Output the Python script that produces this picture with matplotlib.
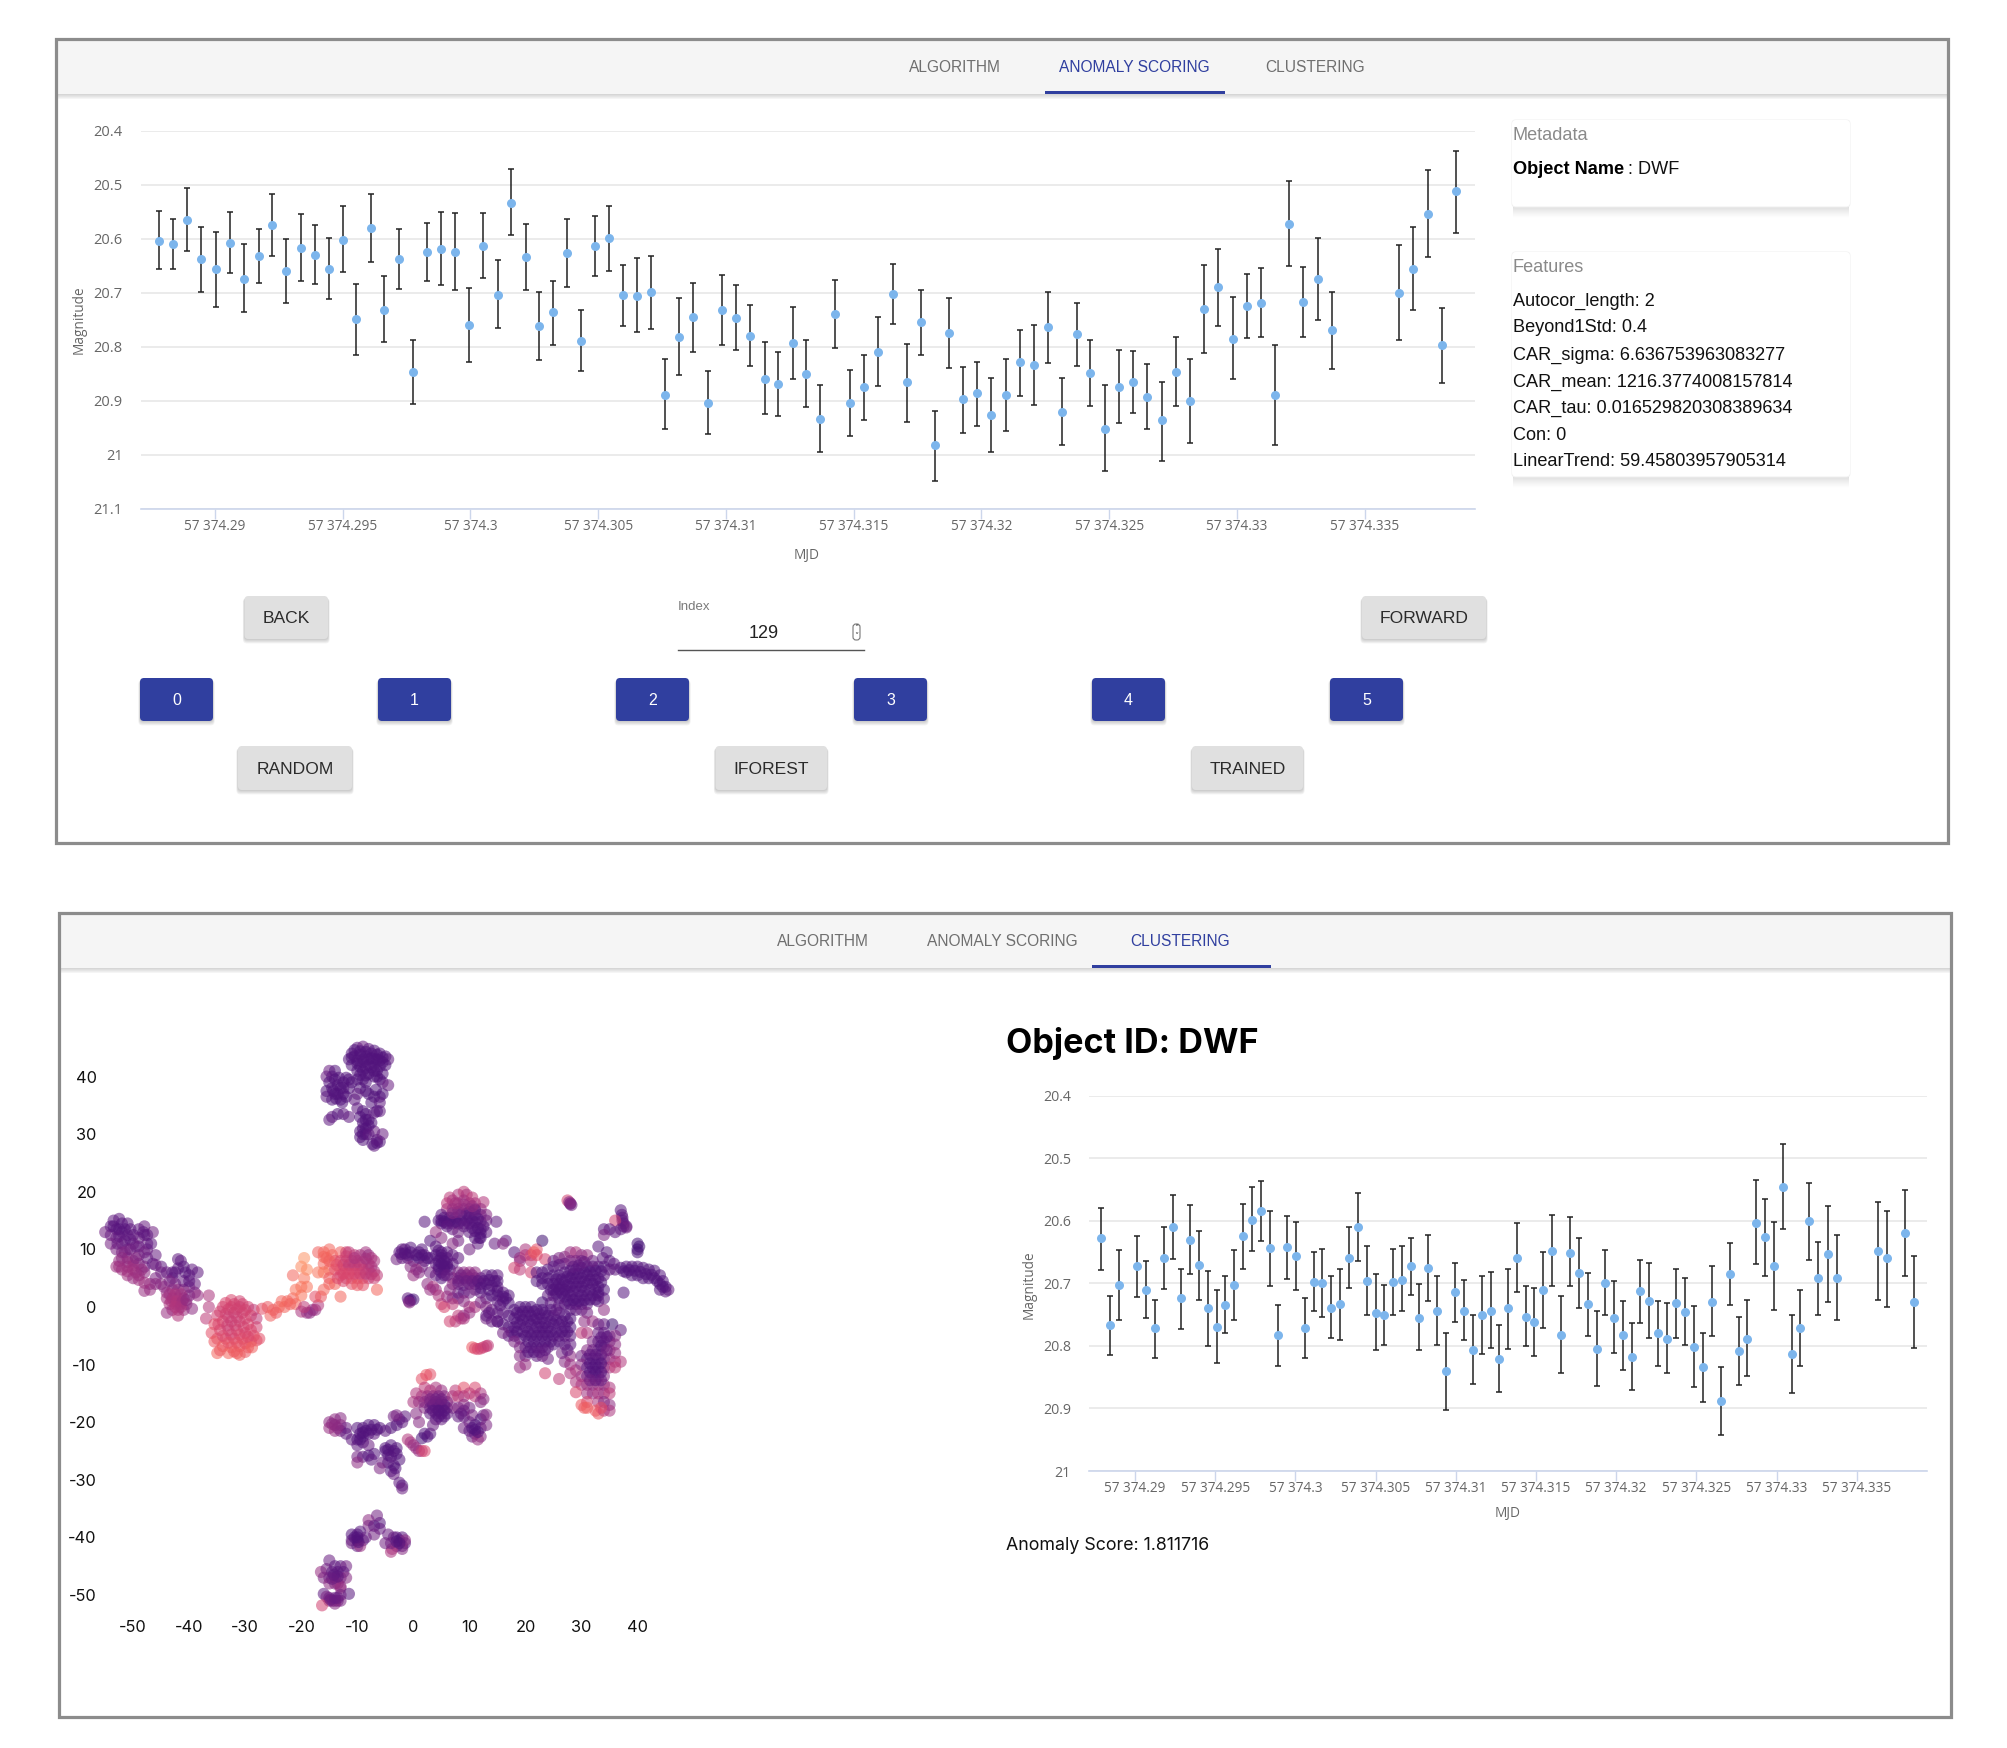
import matplotlib
matplotlib.use("Agg")
import matplotlib.pyplot as plt
from matplotlib.patches import Rectangle, FancyBboxPatch
from matplotlib.ticker import FixedLocator, FixedFormatter, FuncFormatter

W, H = 2007, 1748

# ---------- light curve, anomaly-scoring tab (MJD offset from 57374, magnitude, upper, lower)
top_mjd = [.28780,.28837,.28889,.28947,.29004,.29058,.29115,.29171,.29224,.29280,.29335,.29391,.29446,.29500,.29554,.29611,.29663,.29720,.29774,.29831,.29883,.29940,.29996,.30049,.30107,.30160,.30216,.30270,.30323,.30379,.30432,.30488,.30543,.30599,.30652,.30708,.30761,.30817,.30872,.30930,.30984,.31039,.31095,.31152,.31204,.31261,.31315,.31370,.31426,.31486,.31541,.31596,.31654,.31709,.31764,.31819,.31874,.31929,.31984,.32039,.32097,.32152,.32207,.32260,.32317,.32375,.32427,.32485,.32540,.32595,.32650,.32705,.32760,.32815,.32873,.32928,.32983,.33038,.33093,.33148,.33203,.33258,.33316,.33374,.33633,.33690,.33748,.33803,.33858]
top_mag = [20.603,20.610,20.564,20.637,20.656,20.608,20.674,20.631,20.574,20.660,20.616,20.630,20.655,20.601,20.749,20.580,20.731,20.637,20.847,20.624,20.618,20.624,20.760,20.613,20.703,20.533,20.633,20.762,20.736,20.626,20.789,20.613,20.599,20.704,20.705,20.699,20.889,20.781,20.745,20.903,20.731,20.747,20.779,20.859,20.868,20.792,20.850,20.933,20.739,20.904,20.875,20.810,20.701,20.865,20.753,20.982,20.774,20.897,20.886,20.926,20.889,20.828,20.833,20.763,20.920,20.776,20.849,20.951,20.874,20.865,20.892,20.936,20.846,20.900,20.730,20.689,20.785,20.724,20.718,20.889,20.572,20.716,20.674,20.769,20.700,20.655,20.554,20.797,20.512]
top_upper = [20.548,20.563,20.506,20.577,20.587,20.550,20.610,20.581,20.516,20.600,20.554,20.575,20.598,20.539,20.683,20.516,20.668,20.581,20.787,20.571,20.550,20.552,20.691,20.552,20.639,20.470,20.573,20.699,20.677,20.563,20.731,20.558,20.539,20.648,20.635,20.631,20.823,20.710,20.681,20.844,20.666,20.685,20.723,20.791,20.810,20.725,20.787,20.870,20.675,20.843,20.814,20.744,20.646,20.794,20.694,20.918,20.710,20.837,20.827,20.858,20.822,20.768,20.760,20.698,20.858,20.718,20.787,20.870,20.806,20.808,20.831,20.864,20.781,20.823,20.649,20.619,20.708,20.664,20.654,20.797,20.493,20.652,20.598,20.698,20.612,20.577,20.473,20.727,20.437]
top_lower = [20.656,20.656,20.623,20.698,20.725,20.663,20.736,20.681,20.631,20.719,20.677,20.683,20.711,20.661,20.815,20.643,20.791,20.692,20.906,20.677,20.686,20.694,20.827,20.673,20.765,20.592,20.694,20.825,20.796,20.688,20.844,20.668,20.659,20.761,20.773,20.766,20.952,20.852,20.809,20.962,20.796,20.806,20.835,20.925,20.927,20.860,20.912,20.994,20.802,20.965,20.936,20.873,20.757,20.938,20.815,21.048,20.838,20.959,20.946,20.994,20.956,20.890,20.907,20.830,20.982,20.835,20.910,21.029,20.940,20.923,20.952,21.011,20.909,20.977,20.811,20.761,20.860,20.784,20.782,20.982,20.650,20.782,20.750,20.841,20.787,20.731,20.633,20.867,20.588]

# ---------- light curve, clustering tab
low_mjd = [.28790,.28846,.28900,.29012,.29069,.29123,.29179,.29235,.29289,.29341,.29397,.29453,.29509,.29563,.29619,.29673,.29729,.29783,.29840,.29891,.29950,.30002,.30058,.30114,.30168,.30224,.30278,.30334,.30390,.30446,.30500,.30550,.30606,.30662,.30719,.30773,.30829,.30885,.30941,.30995,.31051,.31107,.31163,.31217,.31267,.31323,.31379,.31436,.31490,.31546,.31602,.31656,.31712,.31768,.31822,.31878,.31928,.31984,.32040,.32096,.32150,.32207,.32263,.32319,.32373,.32429,.32485,.32541,.32597,.32651,.32707,.32763,.32817,.32874,.32930,.32986,.33040,.33096,.33146,.33202,.33258,.33318,.33374,.33634,.33690,.33800,.33854]
low_mag = [20.628,20.767,20.703,20.673,20.710,20.772,20.660,20.610,20.724,20.630,20.671,20.740,20.769,20.734,20.703,20.624,20.598,20.585,20.644,20.783,20.642,20.656,20.772,20.698,20.699,20.739,20.733,20.660,20.610,20.696,20.747,20.751,20.698,20.694,20.673,20.755,20.676,20.744,20.840,20.714,20.744,20.806,20.751,20.744,20.821,20.740,20.660,20.753,20.762,20.710,20.648,20.783,20.651,20.683,20.733,20.805,20.699,20.755,20.783,20.817,20.712,20.728,20.780,20.789,20.732,20.746,20.801,20.833,20.730,20.888,20.685,20.808,20.789,20.603,20.626,20.673,20.546,20.813,20.771,20.601,20.692,20.653,20.691,20.648,20.660,20.619,20.730]
low_upper = [20.579,20.720,20.647,20.625,20.664,20.726,20.610,20.559,20.677,20.575,20.616,20.680,20.711,20.688,20.647,20.573,20.546,20.536,20.584,20.734,20.592,20.602,20.723,20.650,20.645,20.689,20.677,20.610,20.556,20.641,20.685,20.703,20.645,20.641,20.627,20.701,20.622,20.689,20.779,20.668,20.694,20.750,20.689,20.682,20.767,20.677,20.604,20.704,20.707,20.650,20.591,20.721,20.594,20.627,20.684,20.745,20.647,20.696,20.729,20.764,20.663,20.668,20.729,20.732,20.677,20.691,20.737,20.779,20.673,20.833,20.636,20.753,20.726,20.534,20.565,20.602,20.477,20.751,20.710,20.540,20.634,20.577,20.622,20.570,20.584,20.550,20.657]
low_lower = [20.678,20.814,20.759,20.722,20.755,20.820,20.709,20.661,20.773,20.685,20.727,20.800,20.827,20.779,20.759,20.677,20.648,20.633,20.704,20.832,20.693,20.711,20.820,20.745,20.754,20.788,20.791,20.707,20.665,20.750,20.807,20.798,20.750,20.745,20.718,20.807,20.729,20.798,20.902,20.761,20.791,20.861,20.813,20.804,20.873,20.805,20.714,20.800,20.816,20.772,20.704,20.843,20.705,20.739,20.784,20.864,20.750,20.812,20.839,20.871,20.763,20.788,20.832,20.843,20.788,20.798,20.866,20.889,20.784,20.943,20.734,20.862,20.848,20.669,20.689,20.743,20.613,20.875,20.832,20.663,20.750,20.730,20.759,20.727,20.738,20.689,20.804]

mjd_ticks = [.29,.295,.30,.305,.31,.315,.32,.325,.33,.335]
mjd_labels = ['57 374.29','57 374.295','57 374.3','57 374.305','57 374.31','57 374.315','57 374.32','57 374.325','57 374.33','57 374.335']
top_mag_ticks = [20.4,20.5,20.6,20.7,20.8,20.9,21.0,21.1]
top_mag_labels = ['20.4','20.5','20.6','20.7','20.8','20.9','21','21.1']
low_mag_ticks = top_mag_ticks[:-1]
low_mag_labels = top_mag_labels[:-1]

# ---------- t-SNE embedding, one list of (x, y, score) per island
cl_top = [(-11,44,.27),(-10,45,.3),(-9,45.2,.33),(-8,44.8,.3),(-7,44.5,.27),(-6,44,.27),(-5,43.5,.27),(-4.5,43,.3),(-11.5,43,.27),(-10.5,43.5,.27),(-9.5,43.8,.27),(-8.5,43.5,.27),(-7.5,43.2,.27),(-6.5,43,.27),(-5.5,42.5,.27),(-5,42,.27),(-11,42,.27),(-10,42.3,.27),(-9,42.5,.27),(-8,42,.27),(-7,42,.27),(-6,41.8,.27),(-10,41,.27),(-9,41,.27),(-8,40.5,.27),(-7,41,.27),(-10,39.5,.27),(-9,39.5,.27),(-8.5,39,.27),(-6,39.5,.27),(-5.5,39,.3),(-4.5,38.5,.33),(-15,41,.33),(-15.5,40,.33),(-14.5,40,.3),(-15,39,.27),(-14,39.5,.27),(-13.5,38.5,.27),(-14.5,38,.27),(-15.5,37.5,.27),(-13,38,.27),(-12.5,37,.27),(-14,37,.27),(-15.5,36.5,.3),(-14.5,36,.27),(-13,36,.27),(-12,36.5,.27),(-11.5,38,.27),(-11,39,.27),(-8,37,.27),(-7,36.5,.27),(-6,36.5,.27),(-5.5,37,.27),(-7.5,35.5,.27),(-6,35.5,.3),(-10,34.5,.3),(-9.5,33,.27),(-8.5,33.5,.27),(-8,32.5,.27),(-9,32,.27),(-8.5,31,.27),(-9.5,30.5,.27),(-8.5,30,.27),(-9.5,29.5,.27),(-9,29,.27),(-7,30.5,.33),(-6.5,28.5,.27),(-7,28,.3),(-7.3,28.3,.27),(-6,28.7,.27),(-15,32.5,.3),(-14.5,33,.3),(-13.5,33.5,.27),(-12.5,33.5,.3),(-11.5,33,.3),(-7.5,32,.27),(-6,34,.3),(-10.5,44.6,.27),(-9.5,44.4,.27),(-8.5,44.3,.27),(-7.5,44,.27),(-6.5,43.8,.27),(-5.5,43.3,.27),(-11,43.3,.27),(-10,42.8,.27),(-9,43,.27),(-8,43,.27),(-7,43,.27),(-6,42.8,.27),(-9.5,41.7,.27),(-8.5,41.5,.27),(-7.5,41.6,.27),(-6.5,41,.27),(-9.5,40.3,.27),(-8.5,40.2,.27),(-7,40,.27),(-6.5,40,.27),(-5.5,40.5,.27),(-14,41,.27),(-13.3,39.8,.27),(-12.5,39,.27),(-12,39.8,.27),(-11.5,39.5,.27),(-13.5,37,.27),(-14.3,37.5,.27),(-12.5,38,.27),(-13.8,36.2,.27),(-12.7,35.5,.27),(-9.5,38,.27),(-8.5,37.5,.27),(-6.7,37.7,.27),(-9,34,.27),(-9,31,.27),(-8,31.5,.27),(-9,30,.27),(-8,30,.3),(-8.5,32.5,.27),(-6.5,29,.3),(-10,37,.3),(-10.5,36,.3),(-6.5,34,.27),(-7,33.7,.3),(-5.5,30,.33)]
cl_left = [(-55,13,.35),(-54,14,.3),(-53.5,15,.3),(-52.5,15.3,.3),(-52,14.5,.28),(-53,13.5,.3),(-54,12.5,.33),(-52,13,.3),(-51,14.5,.3),(-50.5,13.5,.3),(-51,12.5,.32),(-53,12,.33),(-54,11,.36),(-52,11,.35),(-50,12.5,.3),(-49,13.5,.3),(-48,14,.33),(-49,12,.32),(-48,12.5,.32),(-47.5,11,.32),(-46.5,13,.35),(-47.5,10,.33),(-49,10.5,.33),(-50,11,.35),(-51,10,.36),(-52,9.5,.4),(-53,10,.38),(-51,8.5,.42),(-52.5,8,.45),(-53,7,.47),(-52,6.5,.47),(-51,7,.45),(-50,8,.42),(-50,6.5,.47),(-49,7.5,.42),(-49,9,.36),(-47.5,8.5,.33),(-46,9,.32),(-48,6,.42),(-49,5.5,.45),(-51,5.5,.48),(-50,5,.45),(-48,7,.38),(-46.5,7.5,.3),(-45,7,.3),(-48,2.8,.45),(-46,5,.38),(-47,4,.42),(-45,4,.4),(-43,5,.3),(-42.5,6,.3),(-41.5,8,.3),(-42,8.3,.3),(-41,7,.28),(-39.5,6.5,.3),(-38.5,6,.3),(-40,5.5,.3),(-39,4,.33),(-40,3.5,.35),(-39,2.5,.38),(-38.5,2,.45),(-44,2.5,.45),(-43,3,.47),(-42,3,.48),(-41,3,.42),(-44,1.5,.48),(-43,1.5,.5),(-42,1.5,.5),(-41,1.5,.45),(-40,2,.4),(-43.5,.5,.5),(-42.5,.5,.5),(-41.5,.5,.48),(-40.5,.5,.45),(-43,-.5,.5),(-42,-.5,.5),(-41,-.5,.47),(-42,-1.5,.52),(-44,-1,.45),(-39.5,-.3,.42),(-36.5,2,.5),(-36.5,0,.52),(-53.5,14,.28),(-52.5,13.5,.28),(-51.5,13.5,.28),(-52.5,12.3,.3),(-51.5,11.5,.3),(-50.5,11.7,.3),(-52.8,11,.33),(-51.5,9.5,.38),(-50.5,10,.36),(-49.5,10.5,.33),(-52,8.5,.42),(-51,7.8,.45),(-50,7.2,.47),(-52.5,7,.47),(-51,6.2,.48),(-49.5,6,.47),(-48.5,6.5,.45),(-49.5,8.5,.4),(-48,9.5,.35),(-46.8,11,.3),(-47.5,12.5,.3),(-48.2,13,.3),(-46,7.3,.35),(-45,6,.35),(-44,6,.33),(-43,6,.3),(-42,6.7,.3),(-47,3,.45),(-46,4,.42),(-44.5,3.5,.42),(-43.5,4.5,.38),(-42.5,4,.38),(-41,4.5,.32),(-40,4.5,.3),(-40.7,6,.28),(-43.5,2.2,.47),(-42.5,2.2,.5),(-41.5,2.2,.47),(-43.2,1,.5),(-42.2,1,.52),(-41.2,1,.48),(-42.5,0,.52),(-41.5,0,.5),(-40.5,1.2,.42),(-49,4.7,.47),(-48,4.2,.47)]
cl_center_left = [(-37,-2,.55),(-32.5,1.2,.62),(-31,1,.6),(-34,0,.6),(-32.5,0,.6),(-31,0,.58),(-29.5,0,.6),(-28.5,-.5,.55),(-35,-1.5,.6),(-33.5,-1.2,.6),(-32,-1,.58),(-30.5,-1,.6),(-29,-1.5,.62),(-28,-2,.55),(-35.5,-3,.65),(-34,-2.5,.62),(-32.5,-2.5,.58),(-31,-2.5,.6),(-29.5,-3,.62),(-28,-3.5,.6),(-36,-4.5,.65),(-34.5,-4,.62),(-33,-4,.6),(-31.5,-4,.62),(-30,-4.5,.62),(-28.5,-5,.65),(-27.5,-5.5,.65),(-35,-5.5,.65),(-33.5,-5.5,.65),(-32,-5.5,.62),(-30.5,-5.5,.65),(-29,-6,.65),(-35.5,-6,.68),(-34,-6.8,.68),(-32.5,-7,.68),(-31,-6.8,.68),(-29.5,-7,.68),(-33,-8,.72),(-31.5,-8,.7),(-35,-8,.72),(-31,-8.3,.7),(-28,-5.8,.65),(-33.5,.7,.62),(-32,.5,.6),(-30.5,.5,.6),(-34.5,-.8,.6),(-33,-.4,.6),(-31.5,-.4,.6),(-30,-.5,.6),(-33,-1.8,.58),(-31.5,-1.8,.58),(-30,-2,.6),(-34.8,-3,.62),(-33.2,-3.2,.58),(-31.8,-3.2,.58),(-30.3,-3.5,.6),(-29,-4,.62),(-34,-5,.62),(-32.5,-4.8,.6),(-31,-4.8,.62),(-29.5,-5.2,.62),(-33,-6.2,.65),(-31.5,-6.2,.65),(-30,-6.3,.65),(-34.5,-7.5,.68),(-32,-7.7,.68),(-30,-7.8,.68),(-28.8,-7,.7)]
cl_bridge = [(-27,-.3,.65),(-26,0,.68),(-25,-.5,.7),(-24.5,-1,.68),(-25.5,-1.5,.7),(-24,0,.7),(-23.5,1,.72),(-23,0,.72),(-22.5,1,.72),(-22,.5,.7),(-21,.5,.72),(-21.5,1.5,.72),(-20,2,.75),(-21,3,.75),(-20,3.5,.75),(-19,3.5,.75),(-21.5,5.5,.72),(-19.5,5,.75),(-20,7,.8),(-19,6.5,.8),(-19.5,8.5,.82),(-20,-.8,.5),(-19,-1,.45),(-18.5,-1,.42),(-18,-.5,.42),(-17.5,-.5,.45),(-19.5,0,.55),(-17,.3,.52),(-17.5,1.8,.65),(-16.5,1.8,.68),(-13,1.8,.72)]
cl_mid_left = [(-17,9.5,.7),(-16,9.5,.72),(-15,10,.72),(-15.5,8.5,.7),(-14.5,9,.72),(-13,9.5,.7),(-12,9.5,.6),(-11.5,9.5,.55),(-10.5,9,.55),(-9.5,9,.5),(-8.5,9.5,.48),(-8,9,.45),(-7.5,8.5,.5),(-7,8,.5),(-14,8,.65),(-13,8,.62),(-12,8,.58),(-11,8,.55),(-10,8,.55),(-9,7.8,.52),(-8,7.5,.52),(-15,6.5,.7),(-14,6.5,.65),(-13,6.5,.65),(-12,6.5,.62),(-11,6.5,.58),(-10,6.5,.6),(-9,6.5,.58),(-8,6.5,.55),(-7,6.2,.5),(-6.5,5.5,.55),(-16,7.5,.72),(-17,6,.75),(-16,6,.75),(-15,5,.68),(-13,5.5,.62),(-12,5,.6),(-11,5,.62),(-10,5,.6),(-9,5,.62),(-8,5,.55),(-7,5,.58),(-15,4,.7),(-14,4,.72),(-12.5,4.5,.62),(-11,4,.65),(-10,3.8,.68),(-6.5,3,.72),(-9,3.8,.65),(-16,3,.72),(-16,8.7,.72),(-15,8,.7),(-13.7,7.3,.65),(-12.5,7.3,.6),(-11.5,7.3,.55),(-10.5,7.3,.55),(-9.5,7.3,.55),(-8.5,8.4,.48),(-7.5,7,.5),(-12.5,5.8,.62),(-11.5,5.8,.62),(-10.5,5.8,.62),(-9.5,5.8,.6),(-8.5,5.8,.55),(-7.5,5.7,.55),(-12,8.8,.58),(-10.5,8.5,.5),(-13.5,5,.62)]
cl_dot = [(-1,1.5,.3),(-.8,1,.33),(-.5,1.2,.25),(0,1.3,.25),(-.7,.8,.4)]
cl_upper_right = [(6.5,19,.55),(8,19.5,.5),(9,20,.55),(9.5,19.5,.5),(10.5,19,.55),(6,18,.55),(7,18.5,.5),(8,18,.5),(9,18.5,.48),(10,18,.5),(11,18,.5),(12.5,18.2,.52),(6,17,.5),(7,17,.45),(8,17,.45),(9,17,.42),(10,17,.4),(11,17,.42),(12,17,.45),(5,16,.3),(4.5,15,.28),(5.5,15.5,.28),(6.5,15.5,.28),(7.5,15.5,.3),(8.5,16,.33),(9.5,16.2,.3),(10,15.5,.3),(11,16,.3),(12,16,.33),(13,16,.4),(5,14.5,.28),(6,14.5,.28),(7,14.5,.3),(8,14.5,.28),(9,14.5,.3),(10,14.5,.3),(11,14.7,.28),(12,14.8,.3),(13,15,.35),(14.8,14.8,.3),(2,14.8,.28),(7,13.5,.32),(8,13,.35),(10,13,.3),(11,13.2,.28),(12,13.5,.3),(13,13,.3),(4,13,.45),(11,12,.28),(12,12,.27),(11.5,11,.3),(10,10,.35),(14.5,11,.32),(5,12,.4),(8,11.5,.35),(7,11,.4),(5.5,14.8,.27),(6.5,15,.27),(7.5,14.8,.27),(8.5,15,.28),(9.5,15,.28),(10.5,15,.28),(11.5,15.3,.28),(10.5,13.7,.28),(11.5,13.7,.27),(12.5,14,.28),(10,16.5,.3),(11,16.8,.33),(8,16.5,.38),(7,16.3,.4),(9,17.8,.45),(10.5,17.5,.45),(7.5,18,.48),(12,12.8,.27),(11.8,12,.27),(5,15,.27),(6,14,.3),(9,14,.3)]
cl_mid_right = [(-3,8.3,.35),(-2.5,9.5,.3),(-2,10,.3),(-1.5,10,.3),(-1,9,.3),(-.5,10.3,.28),(-2,8.5,.33),(-1,8.5,.32),(0,8,.3),(1,9.5,.28),(1.5,10,.28),(1,8.5,.27),(2,9,.3),(2,8,.28),(3,8.5,.3),(3,11.5,.28),(4,10.5,.3),(4.5,9.8,.28),(5,9.5,.28),(6,9.5,.3),(6,8.5,.27),(5,8.5,.28),(7,9,.3),(8,8.5,.3),(4,7.5,.3),(5,7.5,.27),(6,7.5,.28),(7,7.5,.3),(4.5,6.5,.28),(5.5,6.5,.28),(6.5,6.5,.28),(1.5,7,.35),(.5,6.5,.45),(-.5,7,.4),(0,5.5,.45),(1,6,.4),(3,6,.35),(4,5.5,.32),(5,5,.28),(2.5,4,.42),(3.5,3.5,.5),(3,3,.45),(4,3,.45),(8,6,.38),(9,6,.42),(10,6,.45),(11,6,.42),(7,5,.4),(8,5,.38),(9,5,.4),(10,5,.4),(11,5,.38),(12,5,.33),(13,5.5,.3),(14,5.5,.28),(15,5.5,.3),(7,4,.42),(8,4,.35),(9,3.8,.35),(10,4,.35),(11,4,.32),(12,4,.33),(13,4,.3),(14,3.7,.3),(15,3.5,.3),(8,2.5,.33),(9,2.5,.3),(10,2.5,.35),(11,3,.35),(12,2.5,.3),(15,2,.28),(16,2.5,.28),(17,2,.28),(6.5,3,.4),(7,1.5,.38),(8,1.5,.35),(13,1.5,.3),(15,1,.3),(16,1,.3),(5.5,0,.62),(7,.5,.55),(10,0,.5),(11,0,.5),(13,0,.4),(14,-.5,.33),(6.5,-2.5,.6),(7.5,-2.5,.55),(8,-1.5,.55),(8.5,-2,.52),(9,-1.5,.45),(9,-2,.5),(10,-1,.45),(13,-2,.35),(14,-2.5,.32),(15,-2.5,.3),(16.5,11.5,.3),(18,9.5,.28),(19,8.5,.45),(20,9,.55),(20,10,.5),(21,9,.6),(21,8,.55),(22,10,.65),(21.5,9.5,.7),(22,9,.65),(19,8,.45),(18,6.8,.6),(19,6.5,.55),(21,6,.6),(23,11.5,.22),(23.5,8.3,.6),(16,11,.4),(4.5,8,.27),(5.5,8,.27),(4,9,.27),(5,9,.27),(5.5,7,.27),(4.5,7,.27),(6,7,.27),(5,6,.27),(5.5,5.5,.3),(6,5.5,.32),(2.5,8.5,.27),(1.5,9,.27),(.5,9,.27),(-.5,9.5,.28),(-1.5,9.3,.27),(-2.2,9.2,.28),(8.5,5.5,.35),(9.5,5.5,.38),(10.5,5.5,.4),(8,4.5,.33),(9.5,4.5,.33),(10.5,4.5,.33),(11.5,4.5,.3),(12.5,4.5,.28),(13.5,4.7,.27),(14.5,4.5,.27),(15,4.5,.27),(12,3.3,.27),(13.5,3,.27),(15,2.8,.27),(16,1.8,.27),(14,2,.27),(15.5,.3,.28),(16.5,1.5,.27),(17,.7,.27),(15,-1,.3),(13.5,-1,.3),(13,-1.5,.3),(12,.8,.37),(9,1,.42),(5,.5,.58),(6,1.8,.45),(4.5,2,.5)]
cl_main = [(22,6,.28),(23,6,.28),(22,4.5,.27),(23,4,.28),(24,6.5,.27),(25,8,.3),(26,8.5,.38),(27,8.7,.4),(28,9.5,.45),(29,9.5,.5),(30,9,.42),(31,9,.45),(25,7,.3),(26,7.3,.3),(27,7.5,.32),(28,8,.38),(29,8,.38),(30,8,.35),(33,10.5,.28),(34.5,9.5,.28),(35,8,.28),(24,5,.27),(25,5.5,.27),(26,5.5,.27),(27,6,.28),(28,6.3,.27),(29,6.5,.27),(30,6.8,.28),(31,7,.27),(32,7,.27),(33,7,.27),(34,7,.27),(36,6.5,.3),(37,6.8,.27),(38,7,.27),(39,7,.27),(40,7,.27),(41,6.8,.27),(42,6.5,.27),(43,6.3,.27),(44,5.5,.27),(38,6,.27),(39,5.5,.27),(40,5.5,.27),(41,5,.27),(42,5,.27),(43,5,.27),(44,4,.27),(45,3.5,.27),(45.5,3,.3),(45,2.7,.3),(44,3,.28),(40,11,.24),(40,10,.24),(40,9.5,.25),(37.5,2.5,.27),(25,4,.27),(26,4,.27),(27,4.5,.27),(28,5,.27),(29,5,.27),(30,5,.27),(31,5.5,.27),(32,5.5,.27),(33,5,.27),(34,5.5,.3),(25,3,.27),(26,3,.27),(27,3,.27),(28,3.5,.27),(29,3.5,.27),(30,3.5,.27),(31,4,.27),(32,4,.27),(33,3.5,.27),(34,3,.27),(24,2,.3),(25,2,.3),(26,1.5,.27),(27,1.8,.27),(28,2,.27),(29,1.5,.27),(30,2,.27),(31,2,.27),(32,2,.27),(33,2,.27),(34,1.5,.3),(23,.8,.25),(27,.5,.27),(28,.5,.27),(29,.5,.27),(30,.5,.27),(31,.5,.3),(33,1,.3),(34,-.5,.42),(28,-.5,.3),(29,-.5,.3),(30,-.5,.33),(31,-1,.35),(23,5,.27),(24,4,.27),(25.5,4.8,.27),(26.5,4.8,.27),(27.5,5.3,.27),(28.5,5.7,.27),(29.5,5.8,.27),(30.5,6,.27),(31.5,6.2,.27),(32.5,6.3,.27),(33.5,6.2,.27),(24.5,3,.27),(25.5,3.5,.27),(26.5,3.5,.27),(27.5,3.8,.27),(28.5,4.2,.27),(29.5,4.3,.27),(30.5,4.4,.27),(31.5,4.7,.27),(32.5,4.7,.27),(33.5,4.3,.27),(25.5,2.3,.27),(26.5,2.4,.27),(27.5,2.6,.27),(28.5,2.7,.27),(29.5,2.7,.27),(30.5,2.8,.27),(31.5,3,.27),(32.5,3,.27),(33,2.5,.27),(27.5,1.1,.27),(28.5,1.2,.27),(29.5,1,.27),(30.5,1.2,.27),(31.5,1.3,.27),(32.5,1.3,.27),(26,.3,.3),(24.5,.7,.3),(37.5,6.2,.27),(38.5,6.4,.27),(39.5,6.3,.27),(40.5,6.1,.27),(41.5,5.7,.27),(42.5,5.6,.27),(43.5,4.5,.27),(44.5,4.5,.27),(35,6.5,.3),(35.8,7.5,.3),(44.5,3.5,.27),(40.3,10.5,.24),(33.8,8.5,.3),(32,8,.33),(28.5,7,.3),(29.5,7.2,.3),(30.5,7.8,.32)]
cl_lower_mid = [(18,-.5,.27),(19,0,.27),(20,0,.27),(21,0,.27),(22,-.5,.27),(23,-.5,.27),(16,-1,.3),(17,-1.5,.28),(18,-2,.27),(19,-1.5,.27),(20,-1.5,.27),(21,-1.5,.27),(22,-2,.27),(23,-2,.27),(24,-1.5,.27),(25,-1.5,.3),(26,-1,.3),(27,-1.5,.27),(28,-2,.27),(15,-2.5,.3),(16,-3,.28),(17,-3.5,.27),(18,-3.5,.27),(19,-3,.27),(20,-3.5,.27),(21,-3,.27),(22,-3.5,.27),(23,-3.5,.27),(24,-3.5,.27),(25,-3,.27),(26,-3,.28),(27,-3.5,.27),(28,-3.5,.27),(17,-5,.3),(18,-5,.3),(19,-5.5,.3),(20,-5,.27),(21,-5,.27),(22,-5,.27),(23,-5,.27),(24,-5,.27),(25,-5,.28),(26,-5,.28),(27,-5,.3),(28,-5,.3),(19,-7,.38),(20,-7,.3),(21,-7,.3),(22,-7,.3),(23,-7,.3),(24,-7,.3),(25,-6.5,.3),(27,-6.5,.3),(28,-6.5,.3),(19,-8.5,.4),(20,-8.5,.33),(22,-8.5,.3),(23,-8.5,.35),(19,-10.5,.45),(20,-10,.45),(24,-9,.35),(23.5,-11.5,.6),(26,-12.5,.55),(27,-9.5,.4),(28,-8.5,.42),(28,-10,.45),(28,-11.5,.5),(29,-11,.5),(18.5,-1,.27),(19.5,-.8,.27),(20.5,-.8,.27),(21.5,-.8,.27),(22.5,-1.2,.27),(23.5,-1,.27),(24.5,-.5,.27),(25.5,-.5,.3),(26.5,-2.5,.27),(18.5,-2.7,.27),(19.5,-2.3,.27),(20.5,-2.5,.27),(21.5,-2.3,.27),(22.5,-2.7,.27),(23.5,-2.8,.27),(24.5,-2.5,.27),(25.5,-2.3,.27),(27.5,-2.5,.27),(17.5,-4.3,.28),(18.5,-4.3,.27),(19.5,-4.3,.27),(20.5,-4.3,.27),(21.5,-4.3,.27),(22.5,-4.3,.27),(23.5,-4.3,.27),(24.5,-4.3,.27),(25.5,-4.3,.27),(26.5,-4.3,.27),(27.5,-4.3,.27),(20.5,-6,.27),(21.5,-6,.27),(22.5,-6,.27),(23.5,-6,.27),(24.5,-6,.27),(26,-6,.28),(20.5,-7.8,.28),(21.5,-7.8,.28),(22.5,-7.8,.3),(23.5,-7.5,.3),(26.5,-8,.35),(27.5,-7.5,.3),(18,-6,.38),(16,-4.5,.35)]
cl_lower_right = [(30.5,-2.5,.42),(32,-2.5,.45),(33,-3,.35),(34,-3,.32),(35.5,-3,.22),(37,-4,.3),(30,-4.5,.55),(31,-4.5,.5),(33,-4.5,.33),(34,-4.5,.3),(35,-5,.32),(36,-5,.4),(32,-6,.38),(33,-6,.3),(34,-6,.3),(35,-6,.35),(36,-6.5,.42),(31,-7.5,.4),(32,-7.5,.33),(33,-7.5,.33),(34,-7,.33),(35,-7.5,.42),(36,-8,.45),(30,-8.5,.35),(31,-9,.3),(32,-9,.3),(33,-9,.3),(34,-9,.35),(35,-9,.42),(36,-9.5,.5),(37,-9.5,.52),(30,-10,.4),(31,-10.5,.3),(32,-10.5,.27),(33,-10.5,.27),(34,-10.5,.35),(35,-10.5,.5),(36,-10.5,.55),(30,-12,.45),(31,-12,.35),(32,-12,.3),(33,-12,.3),(34,-12,.4),(29,-13,.5),(30,-13.5,.5),(31,-13.5,.45),(32,-13.5,.42),(33,-13.5,.45),(34,-13.5,.42),(35,-14,.5),(29,-14.8,.62),(31,-15,.48),(32,-15,.45),(33,-15,.5),(34,-15,.45),(35,-15,.55),(31,-16.5,.6),(33,-16.5,.5),(34,-16.5,.4),(35,-17,.42),(30,-17,.68),(30.5,-17.5,.68),(31,-17.5,.7),(32.5,-18,.68),(33,-18.5,.68),(34,-18,.55),(35,-18,.5),(33.5,-17.5,.65),(32.5,-8.3,.3),(33.5,-8.3,.3),(31.5,-8.3,.3),(32.5,-10,.27),(33.5,-9.8,.27),(31.5,-9.8,.27),(31.5,-11.3,.27),(32.5,-11.3,.27),(33.5,-11.3,.27),(32.5,-12.7,.3),(33.5,-12.7,.33),(31.5,-12.7,.35),(33.5,-6.7,.27),(34.5,-7.5,.35),(34.5,-5.2,.3),(33.5,-5.3,.3)]
cl_islets = [(27.5,18.5,.6),(28,18,.45),(28.2,17.7,.35),(28,17.9,.35),(27.8,18.2,.4),(37,16.8,.28),(37.2,16,.3),(37.3,15.5,.3),(37.3,15,.3),(37.5,14.5,.3),(38,14,.3),(37.5,14,.32),(38,13.8,.35),(36,15,.6),(34,13.5,.28),(35,13.5,.3),(36,13,.3),(34,12.5,.38),(37,13.5,.3),(10.5,-7,.68),(11,-7.2,.62),(11.5,-7.3,.62),(12,-7.2,.6),(12.5,-7,.58),(13,-6.8,.58),(13.3,-6.7,.55)]
cl_south_a = [(2.3,-11.8,.68),(3,-11.7,.65),(1.5,-12.5,.65),(2,-14,.55),(3,-14.5,.52),(4,-14,.5),(5,-14.5,.45),(7.5,-14.5,.55),(9,-14,.65),(11,-14,.62),(.5,-15,.52),(1.5,-15.5,.5),(2.5,-15.5,.45),(3.5,-15.5,.42),(4.5,-15.5,.38),(5.5,-15.5,.4),(7,-15.5,.5),(8,-15.5,.55),(9,-15.5,.5),(10,-15,.55),(11,-15.5,.55),(12,-15,.5),(0,-16.5,.5),(1,-16.5,.45),(2,-16.5,.42),(3,-16.5,.38),(4,-16.5,.33),(5,-16.5,.33),(6,-16.5,.4),(9,-17,.42),(12,-16.5,.4),(12.5,-16,.42),(2,-17.5,.4),(3,-17.5,.33),(4,-17.5,.3),(5,-17.5,.3),(6,-17.5,.33),(7,-17.5,.4),(8,-17.5,.38),(9,-18,.33),(10,-17.5,.35),(3,-18.5,.3),(4,-18.5,.3),(5,-18.5,.28),(6,-18.5,.3),(8,-19,.3),(9,-19,.32),(10.5,-18.8,.38),(12.5,-18.8,.35),(4,-19.5,.3),(5,-19.5,.32),(12,-19.5,.27),(13,-18.7,.4),(10,-20,.33),(11,-20.5,.27),(12,-21,.3),(13,-20.5,.38),(9,-21,.35),(10,-21.5,.3),(11,-22,.28),(10.5,-22.5,.35),(12,-22.5,.4),(11.5,-23,.45),(2,-22,.27),(2.5,-22.5,.27),(1.5,-22.8,.25),(3,-22,.28),(3.5,-20.5,.33),(.5,-18.5,.4),(1,-20,.4),(-1,-23,.52),(-.5,-23.5,.48),(0,-24,.45),(.5,-24.5,.45),(1,-25,.45),(1.5,-25,.55),(2,-25,.62),(3.5,-17,.3),(4.5,-17,.3),(5.5,-17,.3),(3.5,-18,.3),(4.5,-18,.28),(5.5,-18,.28),(4.5,-19,.28),(5.5,-19,.28),(3,-16,.38),(4,-16,.35),(5,-16,.35),(8.5,-18.5,.32),(10.5,-21,.27),(11,-21.3,.27),(11.5,-21.7,.27)]
cl_south_b = [(-3.5,-19,.35),(-2.5,-19.5,.33),(-1.5,-19,.3),(-2,-20,.3),(-3,-20.5,.28),(-4,-21,.27),(-3,-18.8,.38),(-14,-19.5,.42),(-13,-19.3,.4),(-15,-20,.42),(-14,-20.5,.42),(-13,-20.5,.42),(-15,-21,.45),(-14,-21.5,.45),(-13,-21.5,.38),(-12,-21,.33),(-12,-22,.3),(-11,-23,.3),(-10,-23,.27),(-9,-22.5,.27),(-10,-21,.27),(-9,-21,.27),(-8,-20.5,.27),(-7,-20.5,.27),(-6,-21,.27),(-5,-21.5,.3),(-8,-22,.27),(-7,-22,.3),(-9,-23.5,.27),(-10,-24,.3),(-8,-24,.33),(-10,-26,.35),(-9,-26,.3),(-8,-25.8,.27),(-7,-25.5,.27),(-10,-27,.42),(-7.5,-26.5,.3),(-5,-24.5,.27),(-4,-24,.27),(-3,-24.5,.27),(-5,-25,.27),(-3,-25.5,.27),(-4,-26,.3),(-2.5,-26.5,.27),(-5.5,-27,.33),(-4.5,-27,.3),(-3.5,-27.5,.28),(-6,-28,.38),(-4,-28.5,.27),(-3.5,-29,.33),(-2.5,-30.5,.3),(-2,-31,.28),(-2,-31.5,.33),(-14.5,-20.3,.42),(-13.5,-21,.42),(-9.5,-22,.27),(-8.5,-21.5,.27),(-7.5,-21.3,.27),(-6.5,-21.3,.27),(-9.5,-23,.27),(-9,-21.8,.27),(-4.5,-24.8,.27),(-3.5,-25,.27),(-4.5,-25.7,.27),(-3.2,-28,.27)]
cl_south_c = [(-8,-37,.42),(-8,-38,.38),(-7,-38,.3),(-6,-37.5,.27),(-6.5,-36.2,.35),(-6,-38.5,.32),(-11,-39.5,.27),(-10,-39.5,.27),(-9.5,-39,.28),(-11,-40.5,.3),(-10,-40.5,.27),(-9,-40.5,.3),(-11,-41,.35),(-10,-41.5,.3),(-9.5,-41.5,.45),(-8.5,-40,.32),(-7,-39.5,.35),(-4.5,-39.5,.33),(-3.5,-40,.32),(-3,-40,.3),(-2.5,-40.5,.27),(-2,-40,.28),(-1.5,-41,.3),(-2,-41.5,.28),(-1.5,-40.5,.42),(-2,-42,.4),(-3,-41.5,.33),(-3.8,-42,.5),(-4,-42.5,.5),(-5,-41,.35),(-4,-41,.35),(-10.5,-40,.27),(-10,-40,.27),(-9.8,-40.8,.27),(-2.5,-41,.27),(-3,-40.7,.27)]
cl_south_d = [(-15,-44,.33),(-14,-45,.3),(-13,-45,.3),(-12,-45,.35),(-16.5,-46,.45),(-15.5,-45.5,.35),(-14.5,-46,.3),(-13.5,-46,.3),(-12.5,-46,.3),(-16,-47,.38),(-15,-47,.35),(-14,-47,.33),(-13,-47,.35),(-12,-47,.4),(-15,-48,.42),(-14,-48,.4),(-13.5,-48,.42),(-13,-48.5,.42),(-13,-48.8,.45),(-16,-49.8,.3),(-15.5,-50.3,.38),(-15,-50.5,.35),(-14.5,-51,.35),(-14,-51,.35),(-13.5,-51,.35),(-13,-51,.38),(-15,-51,.4),(-14,-51.5,.4),(-16.3,-51.8,.6),(-11.5,-49.8,.28),(-13,-50,.35),(-14.2,-46.5,.3),(-13.5,-46.8,.3),(-14.5,-47.2,.33),(-14.8,-50.8,.33),(-14,-50.5,.33),(-13.5,-50.5,.33)]
islands = [cl_top, cl_left, cl_center_left, cl_bridge, cl_mid_left, cl_dot, cl_upper_right, cl_mid_right, cl_main, cl_lower_mid, cl_lower_right, cl_islets, cl_south_a, cl_south_b, cl_south_c, cl_south_d]
tsne_xticks = [-50,-40,-30,-20,-10,0,10,20,30,40]
tsne_yticks = [40,30,20,10,0,-10,-20,-30,-40,-50]

feature_lines = ['Autocor_length: 2','Beyond1Std: 0.4','CAR_sigma: 6.636753963083277','CAR_mean: 1216.3774008157814','CAR_tau: 0.016529820308389634','Con: 0','LinearTrend: 59.45803957905314']
index_buttons = ['0','1','2','3','4','5']

# ---------- page
fig = plt.figure(figsize=(W/100, H/100), dpi=100, facecolor='white')
page = fig.add_axes([0, 0, 1, 1], zorder=0)
page.set_xlim(0, W); page.set_ylim(H, 0); page.axis('off')
UI = 'Liberation Sans'; BLUE = '#303f9f'; TABGREY = '#6f6f6f'

def rect(x0, y0, x1, y1, **kw):
    page.add_patch(Rectangle((x0, y0), x1-x0, y1-y0, **kw))

def shadow(x0, y0, x1, y1, off=3, spread=7, a=0.035):
    for i in range(spread, 0, -1):
        page.add_patch(FancyBboxPatch((x0-i*0.4, y0+off), x1-x0+i*0.8, y1-y0-off+i*1.1,
                       boxstyle='round,pad=0,rounding_size=4', fc='black', ec='none', alpha=a))

def soft_bottom(x0, x1, y1, depth=11, a=0.05):
    for i in range(depth):
        rect(x0+1, y1+i, x1-1, y1+i+1, fc='black', ec='none', alpha=a*(1-i/depth)**1.3*2.4)

def panel(x0, y0, x1, y1, band, tabs, active, ul):
    rect(x0, y0, x1, band, fc='#f5f5f5', ec='none')
    for i in range(5):
        rect(x0, band+i, x1, band+i+1, fc='black', ec='none', alpha=0.16-0.03*i)
    rect(x0, y0, x1, y1, fc='none', ec='#8c8c8c', lw=2.3)
    for (label, cx) in tabs:
        page.text(cx, (y0+band)/2+1, label, ha='center', va='center', family=UI, fontsize=11.2,
                  color=BLUE if label == active else TABGREY)
    rect(ul[0], band-3, ul[1], band, fc=BLUE, ec='none')

panel(56, 38.5, 1948, 843, 93.5, [('ALGORITHM',955),('ANOMALY SCORING',1134),('CLUSTERING',1315)], 'ANOMALY SCORING', (1044.5,1225))
panel(59, 913, 1951, 1717, 968, [('ALGORITHM',823),('ANOMALY SCORING',1002),('CLUSTERING',1180)], 'CLUSTERING', (1092,1271))

def button(x0, y0, x1, y1, label, fc, tc):
    shadow(x0, y0, x1, y1, off=2, spread=4, a=0.05)
    page.add_patch(FancyBboxPatch((x0, y0), x1-x0, y1-y0, boxstyle='round,pad=0,rounding_size=4', fc=fc, ec='none'))
    page.text((x0+x1)/2, (y0+y1)/2+1, label, ha='center', va='center', family=UI, fontsize=12.6 if fc != BLUE else 11.5, color=tc)

for (x0, x1, lab) in [(244.5,328,'BACK'),(1362,1486,'FORWARD')]:
    button(x0, 596, x1, 639, lab, '#e0e0e0', '#2b2b2b')
for (x0, x1, lab) in [(238,352,'RANDOM'),(715.5,827,'IFOREST'),(1192,1303,'TRAINED')]:
    button(x0, 746, x1, 790, lab, '#e0e0e0', '#2b2b2b')
for x0, lab in zip([140,378,616,854,1092,1330], index_buttons):
    button(x0, 678, x0+73, 721, lab, BLUE, 'white')

page.text(678, 607, 'Index', ha='left', va='center', family=UI, fontsize=9.5, color='#7a7a7a')
page.text(764, 634, '129', ha='center', va='center', family=UI, fontsize=13, color='#222222')
page.plot([678, 864], [650, 650], color='#555555', lw=1)
page.add_patch(FancyBboxPatch((853, 624), 7, 16, boxstyle='round,pad=0,rounding_size=3', fc='white', ec='#777777', lw=0.8))
page.text(856.5, 629, '\u02c4', ha='center', va='center', family='DejaVu Sans', fontsize=6, color='#333333')
page.text(856.5, 636, '\u02c5', ha='center', va='center', family='DejaVu Sans', fontsize=6, color='#333333')

# cards
def card(y0, y1):
    soft_bottom(1512, 1850, y1)
    page.add_patch(FancyBboxPatch((1511.5, y0-0.5), 339, y1-y0+1, boxstyle='round,pad=0,rounding_size=4', fc='#f0f0f0', ec='none'))
    page.add_patch(FancyBboxPatch((1512, y0), 338, y1-y0-0.5, boxstyle='round,pad=0,rounding_size=4', fc='white', ec='none'))
card(120, 207); card(252, 477)
TXT = dict(family=UI, fontsize=13.1, va='center', ha='left')
page.text(1513, 136, 'Metadata', color='#8a8a8a', **TXT)
page.text(1513, 169, 'Object Name', color='black', fontweight='bold', **TXT)
page.text(1628, 169, ': DWF', color='#111111', **TXT)
page.text(1513, 268, 'Features', color='#8a8a8a', **TXT)
for yy, line in zip([301,328,355,382,408,435,462], feature_lines):
    page.text(1513, yy, line, color='#111111', **TXT)

page.text(1006, 1044, 'Object ID: DWF', family='Inter', fontweight='bold', fontsize=24.6, va='center', ha='left', color='black')
page.text(1006, 1545, 'Anomaly Score: 1.811716', family='Inter', fontsize=12.8, va='center', ha='left', color='#111111')

# ---------- light curves
def px_axes(x0, y0, x1, y1):
    ax = fig.add_axes([x0/W, 1-y1/H, (x1-x0)/W, (y1-y0)/H], zorder=2)
    ax.patch.set_alpha(0)
    return ax

def light_curve(box, xlim, ylim, mjd, mag, up, lo, yticks, ylabels, ylab_xy, mjd_xy, ysize):
    ax = px_axes(*box)
    ax.set_xlim(*xlim); ax.set_ylim(*ylim)
    ax.errorbar(mjd, mag, yerr=[[m-u for m, u in zip(mag, up)], [l-m for m, l in zip(mag, lo)]],
                fmt='none', ecolor='#222222', elinewidth=1.1, capsize=2.2, capthick=1.1, zorder=3)
    ax.plot(mjd, mag, 'o', color='#7cb5ec', ms=6.5, mew=0, zorder=4)
    for s in ['top', 'left', 'right']:
        ax.spines[s].set_visible(False)
    ax.spines['bottom'].set_color('#ccd6eb'); ax.spines['bottom'].set_linewidth(1.2)
    ax.yaxis.set_major_locator(FixedLocator(yticks)); ax.yaxis.set_major_formatter(FixedFormatter(ylabels))
    ax.xaxis.set_major_locator(FixedLocator(mjd_ticks)); ax.xaxis.set_major_formatter(FixedFormatter(mjd_labels))
    ax.grid(axis='y', color='#e6e6e6', lw=1.1)
    ax.set_axisbelow(True)
    ax.tick_params(axis='y', length=0, pad=13, labelsize=ysize, labelcolor='#666666')
    ax.tick_params(axis='x', length=7, width=1, color='#ccd6eb', pad=0.3, labelsize=9.8, labelcolor='#666666')
    for lab in ax.get_xticklabels()+ax.get_yticklabels():
        lab.set_family('Open Sans')
    page.text(ylab_xy[0], ylab_xy[1], 'Magnitude', rotation=90, ha='center', va='center', family='Open Sans', fontsize=9.8, color='#666666')
    page.text(mjd_xy[0], mjd_xy[1], 'MJD', ha='center', va='center', family='Open Sans', fontsize=9.8, color='#666666')
    return ax

light_curve((140.6,131,1475,509), (.28709,.33932), (21.1,20.4), top_mjd, top_mag, top_upper, top_lower,
            top_mag_ticks, top_mag_labels, (79,320), (807,555), 10.5)
light_curve((1089,1095.7,1927,1471), (.28713,.33938), (21.0,20.4), low_mjd, low_mag, low_upper, low_lower,
            low_mag_ticks, low_mag_labels, (1029,1285), (1508,1513), 10.2)

# ---------- t-SNE scatter
PX0, PY0, SX, SY = 413.4, 1307, 5.604, 5.76
bx0, by0, bx1, by1 = 105, 1030, 700, 1616
ax = px_axes(bx0, by0, bx1, by1)
ax.set_xlim((bx0-PX0)/SX, (bx1-PX0)/SX); ax.set_ylim((PY0-by1)/SY, (PY0-by0)/SY)
for pts in islands:
    ax.scatter([p[0] for p in pts], [p[1] for p in pts], c=[p[2] for p in pts], cmap='magma', vmin=0, vmax=1.06,
               s=76, alpha=0.55, linewidths=0, clip_on=False)
for s in ax.spines.values():
    s.set_visible(False)
ax.set_xticks(tsne_xticks); ax.set_yticks(tsne_yticks)
ax.tick_params(length=0, labelsize=11.8, labelcolor='#111111')
ax.tick_params(axis='x', pad=3); ax.tick_params(axis='y', pad=6)
for lab in ax.get_xticklabels()+ax.get_yticklabels():
    lab.set_family('Inter')
ax.xaxis.set_major_formatter(FuncFormatter(lambda v, _: f'{int(v)}'))
ax.yaxis.set_major_formatter(FuncFormatter(lambda v, _: f'{int(v)}'))

fig.savefig('out.png', dpi=100, facecolor='white')
